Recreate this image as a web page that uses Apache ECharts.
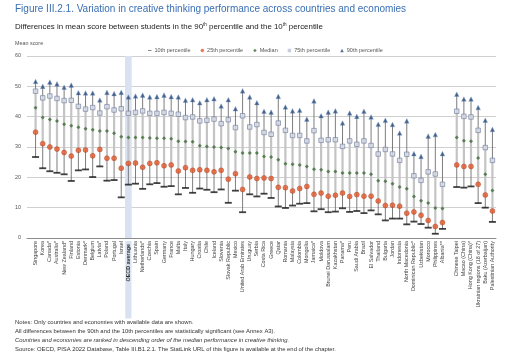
<!DOCTYPE html>
<html><head><meta charset="utf-8">
<script src="https://cdn.jsdelivr.net/npm/echarts@6/dist/echarts.min.js"></script>
<style>html,body{margin:0;padding:0;background:#fff}#c{width:512px;height:356px}</style>
</head><body><div id="c"></div>
<script>
const categories = ['Singapore','Korea','Canada*','Australia*','New Zealand*','Finland','Estonia','Denmark*','Belgium','Latvia*','Poland','Portugal','Israel','OECD average','Lithuania','Netherlands*','Czechia','Spain','Germany','France','Malta','Italy','Hungary','Croatia','Chile','Iceland','Slovenia','Slovak Republic','Mexico','United Arab Emirates','Uruguay','Serbia','Costa Rica','Greece','Qatar','Romania','Malaysia','Colombia','Mongolia','Jamaica*','Moldova','Brunei Darussalam','Kazakhstan','Panama*','Peru','Saudi Arabia','Brazil','El Salvador','Thailand','Bulgaria','Jordan','Indonesia','North Macedonia','Dominican Republic*','Uzbekistan','Morocco','Philippines','Albania**','','Chinese Taipei','Macao (China)','Hong Kong (China)*','Ukrainian regions (18 of 27)','Baku (Azerbaijan)','Palestinian Authority'];

const p10 = [26.7,23.0,22.0,21.5,21.0,18.8,22.3,22.6,20.1,23.6,18.9,19.1,13.4,17.6,17.9,16.2,17.7,18.1,16.9,17.1,14.4,16.5,14.9,16.3,15.9,15.1,16.0,11.6,15.6,8.5,14.4,13.7,14.6,13.2,10.4,9.9,10.7,11.3,11.5,8.8,9.5,8.5,8.7,9.8,8.6,8.9,8.2,9.1,7.8,5.8,6.4,6.4,4.5,5.4,4.6,3.4,1.4,3.0,null,16.8,16.6,17.0,11.5,10.0,5.3];
const p25 = [34.9,31.1,30.0,29.3,28.2,27.0,28.9,29.0,27.1,29.2,26.3,26.3,23.0,24.6,24.7,23.3,24.6,24.8,23.8,24.1,22.1,23.2,22.3,22.5,22.3,21.8,22.3,19.4,21.2,16.0,20.1,19.6,19.8,19.6,16.7,16.6,15.5,16.3,17.0,14.4,14.8,13.8,14.1,14.8,13.7,14.3,13.8,13.8,12.2,10.7,10.8,10.5,8.2,8.6,7.5,5.8,3.8,5.1,null,24.1,23.6,23.6,17.7,14.2,8.9];
const median = [42.9,39.7,39.1,38.6,37.5,37.0,36.5,36.0,35.7,35.3,35.3,34.5,33.4,33.1,33.1,33.1,33.0,32.9,32.9,32.7,31.9,31.8,31.7,30.4,30.2,30.0,29.8,29.5,28.4,28.0,28.0,28.0,26.9,26.7,25.8,24.5,24.3,24.1,23.6,22.7,22.5,21.9,21.9,21.4,21.4,21.4,21.4,21.0,18.9,18.7,17.9,16.8,16.2,13.7,12.3,11.5,9.9,9.7,null,33.1,32.1,31.9,26.4,21.0,15.7];
const p75 = [48.4,46.2,46.8,46.0,45.3,45.4,43.4,42.5,43.0,41.2,43.3,42.2,42.6,41.1,41.4,41.9,41.1,41.1,41.4,41.1,40.8,39.7,39.9,38.6,38.8,39.2,37.7,39.0,36.4,40.3,36.6,37.4,34.8,34.2,37.9,35.5,33.8,33.8,32.0,35.4,32.2,32.4,32.4,30.2,32.0,30.9,32.0,30.5,27.7,29.2,27.7,25.6,27.6,20.5,19.0,21.8,21.1,17.7,null,41.8,40.1,39.9,35.5,29.8,25.6];
const p90 = [51.6,50.0,51.4,50.8,49.7,50.4,47.9,47.8,47.8,45.5,48.0,47.6,48.0,46.5,46.8,47.1,46.5,46.6,47.1,46.6,46.5,45.4,45.6,44.6,45.6,45.9,43.5,45.6,42.6,48.5,46.5,44.6,41.8,41.5,46.7,43.2,41.9,42.1,39.2,45.2,40.3,41.5,41.9,37.9,41.2,40.1,41.8,39.9,37.5,38.8,37.4,34.6,38.6,27.8,26.9,33.6,34.1,27.8,null,47.4,45.8,45.8,43.0,38.8,35.8];

const yTicks = [0,10,20,30,40,50,60];
const highlight = 'OECD average';

const FONT = '"Liberation Sans", Arial, sans-serif';
const rangeData = categories.map((c,i)=> p10[i]==null ? [i,null,null,null,null] : [i,p10[i],p25[i],p75[i],p90[i]]);
const bandData = categories.map(c => c === highlight ? yTicks[yTicks.length-1] : null);

const chart = echarts.init(document.getElementById('c'), null, {renderer:'canvas'});
const sup = {fontSize:4.6, lineHeight:6, verticalAlign:'top', fontFamily:FONT, color:'#222', fontWeight:'normal'};
chart.setOption({
  animation:false,
  textStyle:{fontFamily:FONT},
  title:[
    {text:'Figure III.2.1. Variation in creative thinking performance across countries and economies', left:10, top:-1,
     textStyle:{fontSize:10, fontWeight:'normal', color:'#3a6fb3', fontFamily:FONT}},
    {text:'Differences in mean score between students in the 90{s|th} percentile and the 10{s|th} percentile', left:10, top:17,
     textStyle:{fontSize:7.9, color:'#222', fontFamily:FONT, fontWeight:'normal', lineHeight:10, rich:{s:sup}}},
    {text:'Mean score', left:10, top:36, textStyle:{fontSize:5.4, color:'#555', fontWeight:'normal', fontFamily:FONT}},
    {text:'Notes: Only countries and economies with available data are shown.\nAll differences between the 90th and the 10th percentiles are statistically significant (see Annex A3).\n{i|Countries and economies are ranked in descending order of the median performance in creative thinking.}\nSource: OECD, PISA 2022 Database, Table III.B1.2.1. The StatLink URL of this figure is available at the end of the chapter.',
     left:10, top:313, textStyle:{fontSize:5.9, lineHeight:8.9, color:'#333', fontWeight:'normal', fontFamily:FONT,
       rich:{i:{fontStyle:'italic', fontSize:5.9, lineHeight:8.9, color:'#333', fontFamily:FONT}}}}
  ],
  legend:{
    top:42.5, left:143, itemWidth:3.5, itemHeight:3.5, itemGap:10,
    itemStyle:{borderWidth:0},
    textStyle:{fontSize:5.5, color:'#555', padding:[0,0,0,-2]},
    data:[
      {name:'10th percentile', icon:'path://M0,0M0,4.1L10,4.1L10,5.9L0,5.9ZM10,10'},
      {name:'25th percentile', icon:'circle'},
      {name:'Median', icon:'diamond'},
      {name:'75th percentile', icon:'rect', itemStyle:{color:'#b9c0d2'}},
      {name:'90th percentile', icon:'triangle'}
    ]
  },
  grid:[
    {left:27, right:16, top:56, bottom:118},
    {left:32, right:16, top:56, bottom:118}
  ],
  xAxis:[
    {gridIndex:0, type:'category', data:[''], axisTick:{show:false}, axisLabel:{show:false},
     axisLine:{lineStyle:{color:'#8c8c8c', width:1}}},
    {gridIndex:1, type:'category', data:categories, axisLine:{show:false}, axisTick:{show:false},
     axisLabel:{rotate:90, interval:0, fontSize:5.4, color:'#444', margin:3,
       formatter: v => v === highlight ? '{o|'+v+'}' : v,
       rich:{o:{fontSize:5.4, fontWeight:'bold', color:'#333', backgroundColor:'#d9e2f0', padding:[0.6,3,0.6,37], lineHeight:6}}}}
  ],
  yAxis:[
    {gridIndex:0, type:'value', min:0, max:60, interval:10, axisLine:{show:false}, axisTick:{show:false},
     axisLabel:{fontSize:5.4, color:'#555', margin:6}, splitLine:{lineStyle:{color:'#d0d0d0', width:1}}},
    {gridIndex:1, type:'value', min:0, max:60, interval:10, show:false, splitLine:{show:false}}
  ],
  series:[
    {type:'bar', xAxisIndex:1, yAxisIndex:1, data:bandData, barWidth:'94%', silent:true,
     itemStyle:{color:'#d9e2f0'}, z:0},
    {type:'custom', xAxisIndex:1, yAxisIndex:1, data:rangeData, encode:{x:0, y:[1,2,3,4]}, z:2, silent:true,
     renderItem:(params, api)=>{
       const v1 = api.value(1);
       if (v1 == null || isNaN(v1)) return;
       const i = api.value(0);
       const a = api.coord([i, api.value(1)]);
       const b = api.coord([i, api.value(2)]);
       const c = api.coord([i, api.value(3)]);
       const d = api.coord([i, api.value(4)]);
       return {type:'group', children:[
         {type:'line', shape:{x1:d[0],y1:d[1],x2:c[0],y2:c[1]}, style:{stroke:'#6e6e6e', lineWidth:0.9}},
         {type:'line', shape:{x1:c[0],y1:c[1],x2:b[0],y2:b[1]}, style:{stroke:'#c4c4c4', lineWidth:2.2}},
         {type:'line', shape:{x1:b[0],y1:b[1],x2:a[0],y2:a[1]}, style:{stroke:'#6e6e6e', lineWidth:0.9}}
       ]};
     }},
    {name:'10th percentile', type:'scatter', xAxisIndex:1, yAxisIndex:1, data:p10, symbol:'rect', symbolSize:[7,1.8], z:5,
     itemStyle:{color:'#111'}},
    {name:'25th percentile', type:'scatter', xAxisIndex:1, yAxisIndex:1, data:p25, symbol:'circle', symbolSize:5, z:5,
     itemStyle:{color:'#e4572a', borderColor:'#a63a1a', borderWidth:0.5}},
    {name:'Median', type:'scatter', xAxisIndex:1, yAxisIndex:1, data:median, symbol:'diamond', symbolSize:4, z:5,
     itemStyle:{color:'#3d6b37'}},
    {name:'75th percentile', type:'scatter', xAxisIndex:1, yAxisIndex:1, data:p75, symbol:'rect', symbolSize:4.5, z:5,
     itemStyle:{color:'#d6dbe6', borderColor:'#7d87a3', borderWidth:0.9}},
    {name:'90th percentile', type:'scatter', xAxisIndex:1, yAxisIndex:1, data:p90, symbol:'triangle', symbolSize:4.6, z:5,
     itemStyle:{color:'#2b4c7d', borderColor:'#6f8fbf', borderWidth:0.4}}
  ]
});
</script></body></html>
